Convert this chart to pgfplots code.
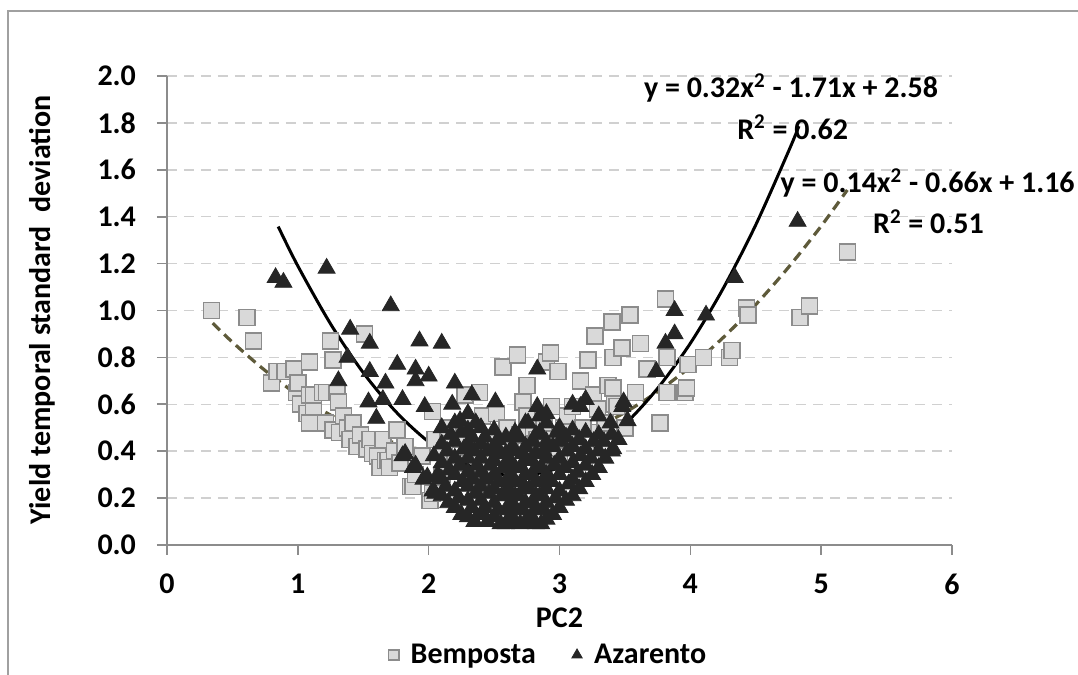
\documentclass[border=0pt]{standalone}
\usepackage{pgfplots}
\pgfplotsset{compat=1.18}
\usepackage{fontspec}
\setmainfont{Carlito}
\definecolor{sqfill}{HTML}{D9D9D9}
\definecolor{sqdraw}{HTML}{8C8C8C}
\definecolor{trifill}{HTML}{262626}
\definecolor{olivec}{HTML}{5E5A3A}
\definecolor{gridc}{HTML}{D0D0D0}
\definecolor{axc}{HTML}{8C8C8C}
\definecolor{framec}{HTML}{A0A0A0}

\pgfplotstableread{
x y
0.34 1.00
0.61 0.97
0.66 0.87
0.80 0.69
0.84 0.74
0.90 0.74
0.97 0.75
0.99 0.65
1.00 0.69
1.02 0.60
1.07 0.56
1.09 0.78
1.09 0.64
1.09 0.52
1.12 0.59
1.12 0.64
1.19 0.65
1.21 0.52
1.22 0.65
1.25 0.87
1.27 0.79
1.27 0.49
1.30 0.65
1.31 0.61
1.32 0.48
1.35 0.55
1.38 0.50
1.40 0.45
1.42 0.52
1.45 0.42
1.48 0.47
1.51 0.90
1.53 0.41
1.55 0.45
1.57 0.39
1.61 0.38
1.63 0.33
1.65 0.45
1.67 0.36
1.69 0.36
1.70 0.33
1.74 0.40
1.76 0.49
1.78 0.35
1.82 0.42
1.86 0.25
1.88 0.25
1.90 0.30
1.95 0.38
2.01 0.19
2.03 0.22
2.03 0.57
2.05 0.45
2.10 0.30
2.12 0.40
2.15 0.50
2.20 0.35
2.25 0.45
2.28 0.64
2.32 0.52
2.35 0.40
2.39 0.65
2.41 0.55
2.45 0.30
2.48 0.45
2.52 0.56
2.55 0.38
2.57 0.76
2.60 0.50
2.62 0.42
2.65 0.30
2.68 0.81
2.70 0.47
2.72 0.61
2.75 0.68
2.75 0.55
2.78 0.40
2.80 0.50
2.83 0.45
2.85 0.35
2.88 0.52
2.90 0.78
2.93 0.82
2.94 0.59
2.96 0.45
2.99 0.74
3.00 0.38
3.03 0.50
3.06 0.55
3.10 0.59
3.12 0.45
3.16 0.70
3.18 0.50
3.20 0.40
3.22 0.79
3.26 0.64
3.27 0.89
3.29 0.58
3.30 0.48
3.35 0.52
3.37 0.68
3.40 0.95
3.41 0.80
3.41 0.67
3.42 0.60
3.44 0.59
3.48 0.84
3.50 0.50
3.54 0.98
3.58 0.65
3.62 0.86
3.67 0.75
3.77 0.52
3.81 1.05
3.82 0.80
3.82 0.65
3.96 0.65
3.97 0.67
3.98 0.77
4.10 0.80
4.30 0.80
4.32 0.83
4.43 1.01
4.44 0.98
4.84 0.97
4.91 1.02
5.20 1.25
}\bemposta

\pgfplotstableread{
x y
0.83 1.14
0.89 1.12
1.22 1.18
1.71 1.02
1.40 0.92
1.55 0.86
1.93 0.87
2.10 0.86
1.76 0.77
1.38 0.80
1.31 0.70
1.55 0.74
1.90 0.75
2.00 0.72
1.90 0.70
2.20 0.69
2.33 0.64
2.51 0.61
2.83 0.75
2.83 0.59
2.76 0.52
1.54 0.61
1.65 0.62
1.80 0.62
2.18 0.60
1.97 0.59
1.60 0.54
1.67 0.69
1.82 0.39
1.90 0.34
1.99 0.29
2.24 0.53
2.90 0.56
4.82 1.38
4.34 1.14
4.12 0.98
3.88 1.00
3.88 0.90
3.81 0.86
3.74 0.74
3.48 0.59
3.20 0.62
3.30 0.55
3.10 0.60
3.16 0.59
3.39 0.52
3.49 0.61
2.85 0.55
2.98 0.48
3.41 0.41
3.52 0.53
1.80 0.38
1.88 0.33
1.96 0.28
2.03 0.23
2.05 0.22
2.07 0.30
2.04 0.38
2.15 0.18
2.13 0.25
2.16 0.32
2.14 0.40
2.17 0.47
2.25 0.13
2.23 0.20
2.26 0.27
2.24 0.34
2.27 0.41
2.25 0.48
2.35 0.10
2.33 0.16
2.36 0.22
2.34 0.28
2.37 0.34
2.35 0.40
2.33 0.46
2.36 0.52
2.45 0.10
2.43 0.16
2.46 0.22
2.44 0.28
2.47 0.34
2.45 0.40
2.43 0.46
2.55 0.09
2.53 0.15
2.56 0.21
2.54 0.27
2.57 0.33
2.55 0.39
2.53 0.45
2.62 0.12
2.64 0.18
2.61 0.24
2.63 0.30
2.62 0.36
2.64 0.42
2.70 0.09
2.72 0.15
2.69 0.21
2.71 0.27
2.70 0.33
2.72 0.39
2.69 0.46
2.78 0.12
2.80 0.18
2.77 0.24
2.79 0.30
2.78 0.36
2.80 0.44
2.86 0.09
2.88 0.15
2.85 0.21
2.87 0.27
2.86 0.33
2.88 0.40
2.85 0.48
2.95 0.13
2.97 0.20
2.94 0.27
2.96 0.34
2.95 0.42
3.05 0.19
3.07 0.26
3.04 0.33
3.06 0.40
3.05 0.46
3.15 0.24
3.14 0.31
3.16 0.38
3.15 0.45
3.25 0.30
3.24 0.37
3.26 0.44
3.35 0.37
3.34 0.44
3.45 0.45
2.10 0.21
2.10 0.28
2.10 0.35
2.10 0.43
2.10 0.50
2.20 0.16
2.20 0.23
2.20 0.30
2.20 0.37
2.20 0.44
2.20 0.52
2.30 0.12
2.30 0.19
2.30 0.25
2.30 0.31
2.30 0.37
2.30 0.43
2.30 0.49
2.30 0.56
2.40 0.13
2.40 0.19
2.40 0.25
2.40 0.31
2.40 0.37
2.40 0.43
2.40 0.50
2.50 0.12
2.50 0.18
2.50 0.24
2.50 0.30
2.50 0.36
2.50 0.42
2.50 0.49
2.59 0.09
2.59 0.15
2.59 0.21
2.59 0.27
2.59 0.33
2.59 0.39
2.59 0.46
2.66 0.10
2.66 0.15
2.66 0.21
2.66 0.27
2.66 0.33
2.66 0.40
2.66 0.48
2.74 0.10
2.74 0.18
2.74 0.24
2.74 0.30
2.74 0.36
2.74 0.42
2.74 0.52
2.82 0.09
2.82 0.15
2.82 0.21
2.82 0.27
2.82 0.33
2.82 0.39
2.82 0.47
2.90 0.11
2.90 0.18
2.90 0.24
2.90 0.30
2.90 0.37
2.90 0.44
2.90 0.52
3.00 0.16
3.00 0.23
3.00 0.30
3.00 0.37
3.00 0.44
3.00 0.50
3.10 0.21
3.10 0.28
3.10 0.35
3.10 0.42
3.10 0.49
3.20 0.27
3.20 0.34
3.20 0.41
3.20 0.48
3.30 0.33
3.30 0.40
3.30 0.47
3.40 0.40
3.40 0.47
}\azarento

\begin{document}
\begin{tikzpicture}[font=\fontsize{15}{18}\selectfont\bfseries]
\useasboundingbox (0,0) rectangle (539pt,337.5pt);
\draw[framec, line width=0.9pt] (4pt,0) -- (4pt,332pt) -- (539pt,332pt);
\begin{axis}[
  at={(83.5pt,65pt)}, anchor=south west,
  scale only axis, width=392.5pt, height=234.5pt,
  xmin=0, xmax=6, ymin=0, ymax=2,
  clip=false,
  xtick={0,1,2,3,4,5,6},
  ytick={0,0.2,0.4,0.6,0.8,1.0,1.2,1.4,1.6,1.8,2.0},
  axis x line*=bottom, axis y line*=left,
  tick align=outside, major tick length=5pt,
  tick style={axc, line width=0.8pt},
  axis line style={axc, line width=0.8pt},
  ymajorgrids,
  grid style={gridc, dash pattern=on 5pt off 3.5pt, line width=0.7pt},
  /pgf/number format/assume math mode=true,
  yticklabel style={/pgf/number format/fixed, /pgf/number format/fixed zerofill, /pgf/number format/precision=1},
  yticklabel shift=7pt,
  xticklabel style={yshift=-6pt},
  xlabel={PC2},
  ylabel={Yield temporal standard\ \ deviation},
  xlabel style={at={(axis description cs:0.5,-0.156)}, anchor=center},
  ylabel style={at={(axis description cs:-0.159,0.501)}, anchor=center},
  legend style={at={(axis description cs:0.487,-0.2345)}, anchor=center, draw=none,
    legend columns=2,
    /tikz/every odd column/.append style={column sep=4pt},
    /tikz/every even column/.append style={column sep=16pt},
    font=\fontsize{15}{18}\selectfont\bfseries},
]
\addplot[only marks, mark=square*, mark size=4pt,
  mark options={fill=sqfill, draw=sqdraw, line width=0.8pt},
  legend image post style={mark size=2.6pt}] table {\bemposta};
\addlegendentry{Bemposta}
\addplot[only marks, mark=triangle*, mark size=4.9pt,
  mark options={fill=trifill, draw=trifill, line width=0.4pt},
  legend image post style={mark size=3pt}] table {\azarento};
\addlegendentry{Azarento}
\addplot[olivec, line width=1.6pt, dash pattern=on 5pt off 3pt, smooth, forget plot] coordinates {
(0.35,0.946) (0.5,0.865) (0.75,0.744) (1.0,0.640) (1.25,0.554) (1.5,0.485) (1.75,0.434)
(2.0,0.400) (2.25,0.384) (2.5,0.385) (2.75,0.404) (3.0,0.440) (3.25,0.494) (3.5,0.565)
(3.75,0.654) (4.0,0.760) (4.25,0.884) (4.5,1.025) (4.75,1.184) (5.0,1.360) (5.2,1.514)};
\addplot[black, line width=1.5pt, smooth, forget plot] coordinates {
(0.85,1.358) (1.0,1.190) (1.25,0.943) (1.5,0.735) (1.75,0.568) (2.0,0.440) (2.25,0.353)
(2.5,0.305) (2.75,0.298) (3.0,0.330) (3.25,0.403) (3.5,0.515) (3.75,0.668) (4.0,0.860)
(4.25,1.093) (4.5,1.365) (4.75,1.678) (4.83,1.786)};
\node at (axis description cs:0.795,0.974) {y = 0.32x\textsuperscript{2} - 1.71x + 2.58};
\node at (axis description cs:0.797,0.891) {R\textsuperscript{2} = 0.62};
\node at (axis description cs:0.969,0.772) {y = 0.14x\textsuperscript{2} - 0.66x + 1.16};
\node at (axis description cs:0.970,0.689) {R\textsuperscript{2} = 0.51};
\end{axis}
\end{tikzpicture}
\end{document}
